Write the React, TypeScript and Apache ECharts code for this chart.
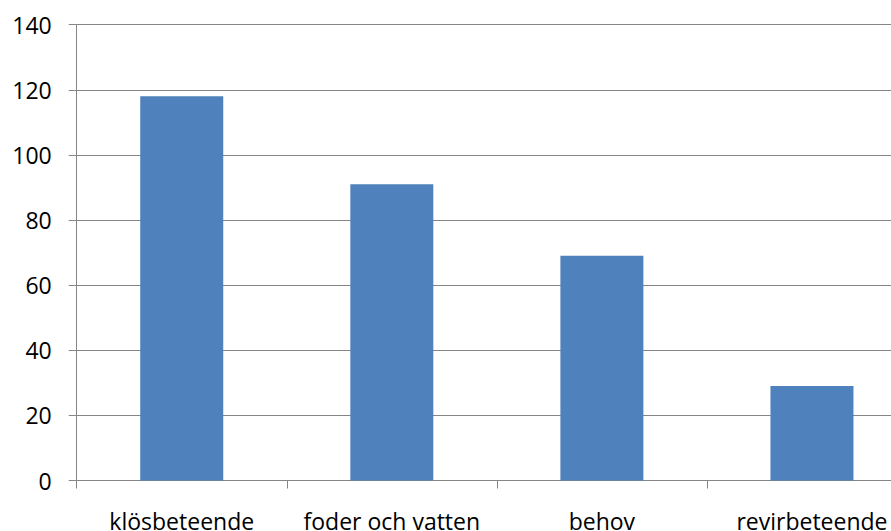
import React, { useEffect, useRef } from "react";
import * as echarts from "echarts";

const categories = ["klösbeteende", "foder och vatten", "behov", "revirbeteende"];
const values = [118, 91, 69, 29];
const yMin = 0;
const yMax = 140;
const yInterval = 20;

export default function App() {
  const ref = useRef<HTMLDivElement>(null);
  useEffect(() => {
    if (!ref.current) return;
    const chart = echarts.init(ref.current, null, { renderer: "svg" });
    chart.setOption({
      animation: false,
      backgroundColor: "#ffffff",
      grid: {
        left: 76.7,
        right: 0,
        top: 24.7,
        bottom: 531 - 480.5,
        outerBoundsMode: "none",
        containLabel: false,
      },
      xAxis: {
        type: "category",
        data: categories,
        boundaryGap: true,
        axisLine: { show: true, lineStyle: { color: "#868686", width: 1 } },
        axisTick: { show: true, length: 8, alignWithLabel: false, lineStyle: { color: "#868686" } },
        axisLabel: {
          margin: 29,
          fontSize: 23,
          color: "#000000",
          fontFamily: "Open Sans",
          interval: 0,
        },
      },
      yAxis: {
        type: "value",
        min: yMin,
        max: yMax,
        interval: yInterval,
        axisLine: { show: true, lineStyle: { color: "#868686", width: 1 } },
        axisTick: { show: true, length: 8, lineStyle: { color: "#868686" } },
        splitLine: { show: true, lineStyle: { color: "#868686", width: 1 } },
        axisLabel: {
          margin: 25,
          fontSize: 23,
          color: "#000000",
          fontFamily: "Open Sans",
        },
      },
      series: [
        {
          type: "bar",
          data: values,
          barWidth: 83,
          itemStyle: { color: "#4F81BD" },
        },
      ],
    });
    return () => chart.dispose();
  }, []);
  return (
    <div
      style={{
        position: "fixed",
        left: 0,
        top: 0,
        width: 891,
        height: 531,
        overflow: "hidden",
        background: "#ffffff",
      }}
    >
      <div ref={ref} style={{ width: 917, height: 531 }} />
    </div>
  );
}
